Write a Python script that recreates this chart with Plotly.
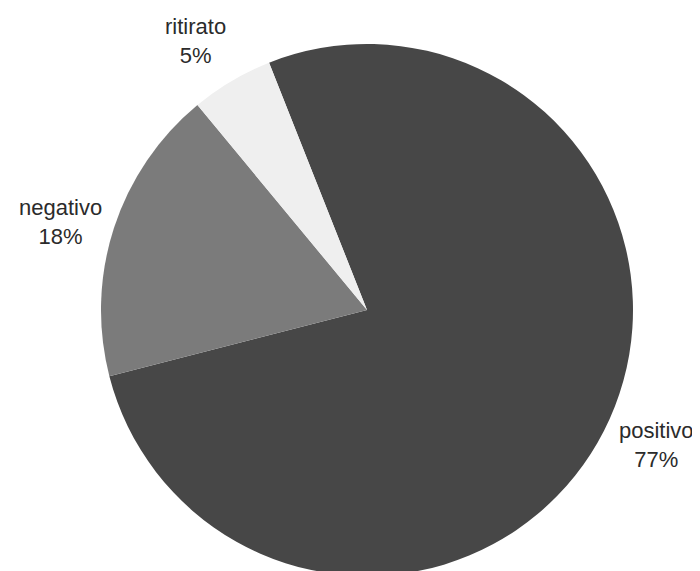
import math
import plotly.graph_objects as go

labels = ["positivo", "negativo", "ritirato"]
values = [77, 18, 5]
colors = ["#474747", "#7b7b7b", "#efefef"]

W, H = 700, 571
PAGE_MARGIN = 8             # default <body> margin of the written page
rotation = -21.6            # start angle of first slice (deg, clockwise from 12 o'clock)
# pie centre / radius as seen on screen
cx_s, cy_s, r_px = 367, 310, 266
cx_px, cy_px = cx_s - PAGE_MARGIN, cy_s - PAGE_MARGIN
label_dist = 1.2            # label centre distance, in radii
label_shift = -2.0          # small angular shift of the labels (deg)

fig = go.Figure(go.Pie(
    labels=labels,
    values=values,
    sort=False,
    direction="clockwise",
    rotation=rotation,
    marker=dict(colors=colors, line=dict(width=0)),
    textinfo="none",
    domain=dict(x=[(cx_px - r_px) / W, (cx_px + r_px) / W],
                y=[1 - (cy_px + r_px) / H, 1 - (cy_px - r_px) / H]),
    showlegend=False,
    hoverinfo="label+percent",
))

total = sum(values)
cum = 0.0
for lab, v in zip(labels, values):
    mid = math.radians(rotation + label_shift + (cum + v / 2) / total * 360)
    cum += v
    x = cx_px + label_dist * r_px * math.sin(mid)
    y = cy_px - label_dist * r_px * math.cos(mid)
    fig.add_annotation(
        x=x / W, y=1 - y / H, xref="paper", yref="paper",
        text=f"{lab}<br>{round(v / total * 100)}%",
        showarrow=False, xanchor="center", yanchor="middle", align="center",
        font=dict(family="Liberation Sans, Arial, sans-serif", size=22, color="#2b2b2b"),
    )

fig.update_layout(
    width=W,
    height=H,
    margin=dict(l=0, r=0, t=0, b=0),
    paper_bgcolor="white",
    plot_bgcolor="white",
    showlegend=False,
)

fig.write_html("out.html")
